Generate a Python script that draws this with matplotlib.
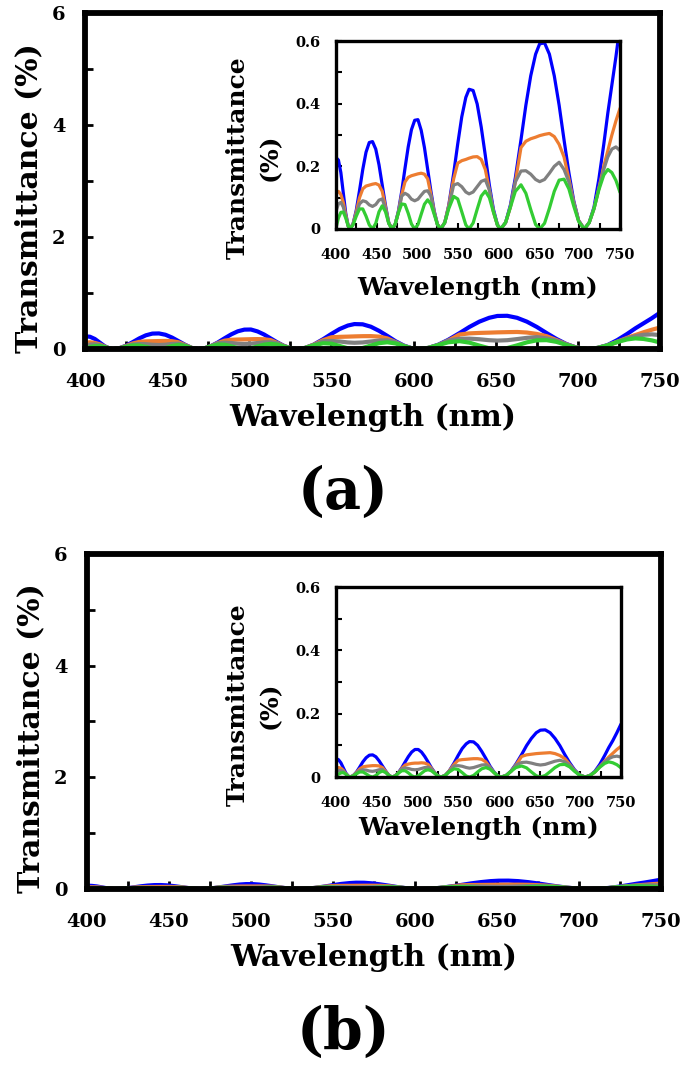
import matplotlib
matplotlib.use("Agg")
import matplotlib.pyplot as plt
from matplotlib.ticker import MultipleLocator

plt.rcParams['font.family'] = 'DejaVu Serif'
plt.rcParams['font.weight'] = 'bold'

# wavelength grid (nm)
wl = [400, 403, 406, 409, 412, 415, 417,
      421, 425, 429, 433, 437, 441, 445, 449, 453, 457, 461, 465, 469,
      473, 477, 481, 485, 489, 493, 497, 501, 505, 509, 513, 517, 521, 525, 529,
      534, 539, 545, 550, 555, 560, 564, 569, 574, 579, 584, 589, 594, 599, 603,
      609, 615, 621, 628, 634, 640, 646, 651, 657, 663, 669, 675, 681, 687, 693, 699, 706,
      712, 718, 724, 730, 735, 740, 745, 750]

# panel (a) transmittance (%)
blue_a = [0.228, 0.22, 0.18, 0.115, 0.05, 0.01, 0.0,
          0.016, 0.06, 0.123, 0.19, 0.245, 0.276, 0.279, 0.255, 0.205, 0.14, 0.075, 0.02, 0.0,
          0.015, 0.058, 0.12, 0.193, 0.262, 0.317, 0.347, 0.349, 0.315, 0.26, 0.19, 0.12, 0.058, 0.015, 0.0,
          0.02, 0.076, 0.177, 0.271, 0.358, 0.42, 0.446, 0.442, 0.399, 0.325, 0.235, 0.14, 0.063, 0.013, 0.0,
          0.02, 0.077, 0.163, 0.285, 0.395, 0.489, 0.558, 0.591, 0.594, 0.558, 0.489, 0.395, 0.285, 0.18, 0.09, 0.027, 0.0,
          0.02, 0.07, 0.16, 0.27, 0.37, 0.46, 0.55, 0.65]
orange_a = [0.115, 0.12, 0.11, 0.085, 0.045, 0.01, 0.0,
            0.015, 0.055, 0.1, 0.128, 0.137, 0.14, 0.143, 0.145, 0.14, 0.12, 0.07, 0.02, 0.0,
            0.015, 0.055, 0.11, 0.15, 0.165, 0.17, 0.173, 0.176, 0.178, 0.175, 0.16, 0.11, 0.055, 0.015, 0.0,
            0.02, 0.075, 0.16, 0.21, 0.218, 0.222, 0.226, 0.23, 0.231, 0.222, 0.19, 0.125, 0.055, 0.012, 0.0,
            0.02, 0.07, 0.15, 0.26, 0.28, 0.288, 0.293, 0.298, 0.302, 0.305, 0.295, 0.27, 0.23, 0.16, 0.085, 0.027, 0.0,
            0.02, 0.065, 0.13, 0.2, 0.25, 0.3, 0.345, 0.385]
gray_a = [0.057, 0.08, 0.085, 0.07, 0.04, 0.01, 0.0,
          0.015, 0.05, 0.08, 0.09, 0.087, 0.077, 0.072, 0.078, 0.092, 0.096, 0.065, 0.018, 0.0,
          0.015, 0.055, 0.105, 0.114, 0.108, 0.095, 0.09, 0.095, 0.108, 0.12, 0.122, 0.105, 0.052, 0.014, 0.0,
          0.02, 0.072, 0.14, 0.145, 0.135, 0.118, 0.112, 0.118, 0.135, 0.152, 0.157, 0.125, 0.058, 0.012, 0.0,
          0.02, 0.072, 0.15, 0.185, 0.186, 0.175, 0.158, 0.151, 0.158, 0.178, 0.2, 0.213, 0.19, 0.15, 0.085, 0.026, 0.0,
          0.02, 0.065, 0.13, 0.19, 0.23, 0.255, 0.262, 0.25]
green_a = [0.003, 0.035, 0.053, 0.054, 0.035, 0.01, 0.0,
           0.013, 0.041, 0.064, 0.064, 0.041, 0.013, 0.0, 0.018, 0.055, 0.074, 0.055, 0.018, 0.0,
           0.016, 0.052, 0.08, 0.078, 0.05, 0.016, 0.0, 0.014, 0.047, 0.079, 0.093, 0.079, 0.047, 0.014, 0.0,
           0.02, 0.065, 0.104, 0.096, 0.055, 0.013, 0.0, 0.019, 0.063, 0.105, 0.121, 0.1, 0.054, 0.012, 0.0,
           0.021, 0.07, 0.12, 0.141, 0.114, 0.062, 0.014, 0.0, 0.018, 0.066, 0.12, 0.156, 0.159, 0.128, 0.073, 0.024, 0.0,
           0.02, 0.065, 0.125, 0.172, 0.19, 0.18, 0.155, 0.117]

# panel (b) transmittance (%)
blue_b = [0.058, 0.055, 0.045, 0.029, 0.013, 0.003, 0.0,
          0.004, 0.015, 0.031, 0.048, 0.061, 0.069, 0.07, 0.064, 0.051, 0.035, 0.019, 0.005, 0.0,
          0.004, 0.015, 0.03, 0.048, 0.065, 0.079, 0.087, 0.087, 0.079, 0.065, 0.048, 0.03, 0.015, 0.004, 0.0,
          0.005, 0.019, 0.044, 0.068, 0.09, 0.105, 0.112, 0.111, 0.1, 0.081, 0.059, 0.035, 0.016, 0.003, 0.0,
          0.005, 0.019, 0.041, 0.071, 0.099, 0.122, 0.14, 0.148, 0.149, 0.14, 0.122, 0.099, 0.071, 0.045, 0.023, 0.007, 0.0,
          0.005, 0.018, 0.04, 0.068, 0.093, 0.115, 0.14, 0.167]
orange_b = [0.029, 0.03, 0.028, 0.021, 0.011, 0.003, 0.0,
            0.004, 0.014, 0.025, 0.032, 0.034, 0.035, 0.036, 0.036, 0.035, 0.03, 0.018, 0.005, 0.0,
            0.004, 0.014, 0.028, 0.038, 0.041, 0.043, 0.044, 0.044, 0.045, 0.044, 0.04, 0.028, 0.014, 0.004, 0.0,
            0.005, 0.019, 0.04, 0.053, 0.055, 0.056, 0.057, 0.058, 0.058, 0.056, 0.048, 0.031, 0.014, 0.003, 0.0,
            0.005, 0.018, 0.038, 0.065, 0.07, 0.072, 0.074, 0.075, 0.076, 0.077, 0.074, 0.068, 0.058, 0.04, 0.021, 0.007, 0.0,
            0.005, 0.016, 0.033, 0.05, 0.063, 0.075, 0.087, 0.097]
gray_b = [0.014, 0.02, 0.021, 0.018, 0.01, 0.003, 0.0,
          0.004, 0.013, 0.02, 0.023, 0.022, 0.019, 0.018, 0.02, 0.023, 0.024, 0.016, 0.005, 0.0,
          0.004, 0.014, 0.026, 0.029, 0.027, 0.024, 0.023, 0.024, 0.027, 0.03, 0.031, 0.026, 0.013, 0.004, 0.0,
          0.005, 0.018, 0.035, 0.036, 0.034, 0.03, 0.028, 0.03, 0.034, 0.038, 0.039, 0.031, 0.015, 0.003, 0.0,
          0.005, 0.018, 0.038, 0.046, 0.047, 0.044, 0.04, 0.038, 0.04, 0.045, 0.05, 0.053, 0.048, 0.038, 0.021, 0.007, 0.0,
          0.005, 0.016, 0.033, 0.048, 0.058, 0.064, 0.066, 0.063]
green_b = [0.001, 0.009, 0.013, 0.014, 0.009, 0.003, 0.0,
           0.003, 0.01, 0.016, 0.016, 0.01, 0.003, 0.0, 0.005, 0.014, 0.019, 0.014, 0.005, 0.0,
           0.004, 0.013, 0.02, 0.02, 0.013, 0.004, 0.0, 0.004, 0.012, 0.02, 0.023, 0.02, 0.012, 0.004, 0.0,
           0.005, 0.016, 0.026, 0.024, 0.014, 0.003, 0.0, 0.005, 0.016, 0.026, 0.03, 0.025, 0.014, 0.003, 0.0,
           0.005, 0.018, 0.03, 0.035, 0.029, 0.016, 0.004, 0.0, 0.005, 0.017, 0.03, 0.039, 0.04, 0.032, 0.018, 0.006, 0.0,
           0.005, 0.016, 0.031, 0.043, 0.048, 0.045, 0.039, 0.029]

colors = ['#0000FF', '#ED7D31', '#808080', '#33CC33']
series_a = [blue_a, orange_a, gray_a, green_a]
series_b = [blue_b, orange_b, gray_b, green_b]


def draw(ax, series, lw):
    for ys, c in zip(series, colors):
        ax.plot(wl, ys, color=c, lw=lw, solid_capstyle='round')
    ax.set_xlim(400, 750)


def style_main(ax):
    ax.set_ylim(0, 6)
    ax.xaxis.set_major_locator(MultipleLocator(50))
    ax.xaxis.set_minor_locator(MultipleLocator(25))
    ax.yaxis.set_major_locator(MultipleLocator(2))
    ax.yaxis.set_minor_locator(MultipleLocator(1))
    ax.tick_params(which='both', direction='in', width=2, length=6, labelsize=14)
    ax.tick_params(axis='x', pad=17)
    ax.tick_params(axis='y', pad=14)
    for s in ax.spines.values():
        s.set_linewidth(4.2)
    ax.set_xlabel('Wavelength (nm)', fontsize=21.5, fontweight='bold')
    ax.set_ylabel('Transmittance (%)', fontsize=21.5, fontweight='bold')
    ax.xaxis.set_label_coords(0.5, -0.16)
    ax.yaxis.set_label_coords(-0.073, 0.45)


def style_inset(ax, xlab_y):
    ax.set_ylim(0, 0.6)
    ax.xaxis.set_major_locator(MultipleLocator(50))
    ax.xaxis.set_minor_locator(MultipleLocator(25))
    ax.yaxis.set_minor_locator(MultipleLocator(0.1))
    ax.set_yticks([0, 0.2, 0.4, 0.6], ['0', '0.2', '0.4', '0.6'])
    ax.tick_params(which='both', direction='in', width=1.5, length=4, labelsize=10.5)
    ax.tick_params(axis='x', pad=14)
    ax.tick_params(axis='y', pad=11)
    for s in ax.spines.values():
        s.set_linewidth(2.4)
    ax.set_xlabel('Wavelength (nm)', fontsize=18, fontweight='bold')
    ax.set_ylabel('Transmittance\n(%)', fontsize=18, fontweight='bold', linespacing=1.45)
    ax.xaxis.set_label_coords(0.5, xlab_y)
    ax.yaxis.set_label_coords(-0.19, 0.38)


fig = plt.figure(figsize=(6.85, 10.74), dpi=100)

# panel (a)
ax_a = fig.add_axes([0.1241, 0.6750, 0.8394, 0.3128])
draw(ax_a, series_a, 3.0)
style_main(ax_a)
ins_a = fig.add_axes([0.4905, 0.7868, 0.4146, 0.1750])
draw(ins_a, series_a, 2.3)
style_inset(ins_a, -0.25)

# panel (b)
ax_b = fig.add_axes([0.1270, 0.1723, 0.8380, 0.3119])
draw(ax_b, series_b, 3.0)
style_main(ax_b)
ins_b = fig.add_axes([0.4905, 0.2765, 0.4160, 0.1769])
draw(ins_b, series_b, 2.3)
style_inset(ins_b, -0.205)

fig.text(343 / 685, 1 - 493 / 1074, '(a)', fontsize=41, fontweight='bold', ha='center', va='center')
fig.text(343 / 685, 1 - 1033 / 1074, '(b)', fontsize=41, fontweight='bold', ha='center', va='center')

fig.savefig('out.png', dpi=100)
